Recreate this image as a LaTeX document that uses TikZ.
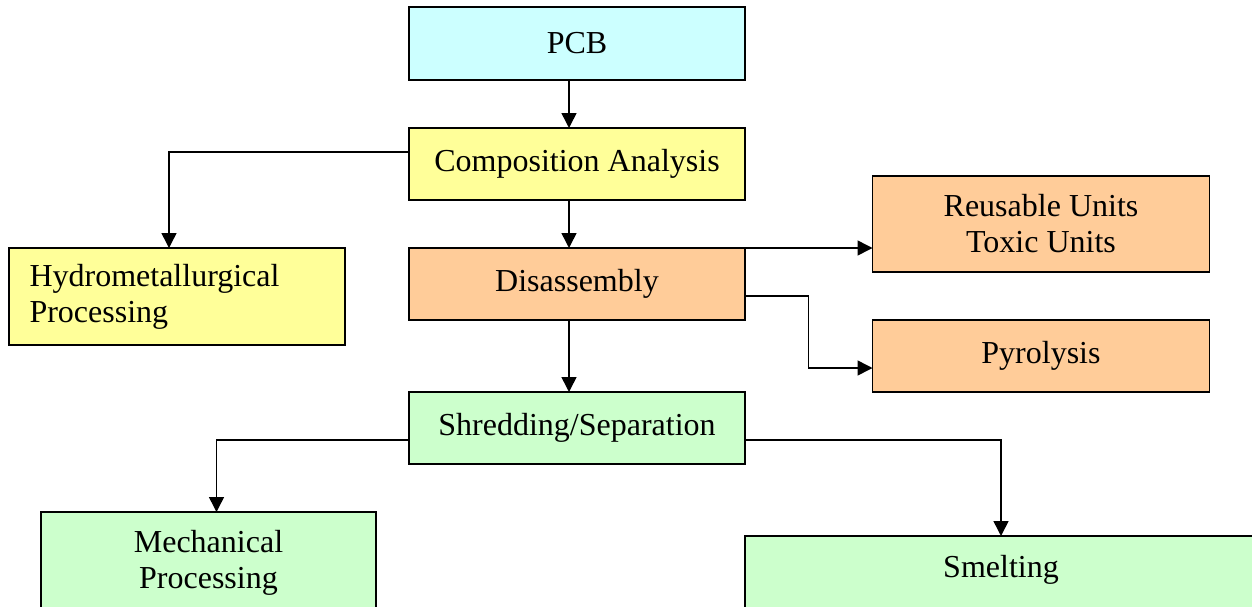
\documentclass[tikz,border=0pt]{standalone}
\usepackage{fontspec}
\setmainfont{Liberation Serif}
\usepackage{tikz}
\usetikzlibrary{positioning,arrows.meta}
\definecolor{pcbcyan}{HTML}{CCFFFF}
\definecolor{stepyellow}{HTML}{FFFF99}
\definecolor{steporange}{HTML}{FFCC99}
\definecolor{stepgreen}{HTML}{CCFFCC}
\tikzset{ stage/.style={draw,line width=1.8pt,outer sep=0pt,inner sep=0pt,minimum width=336pt,minimum height=72pt,align=center,font=\fontsize{32pt}{36pt}\selectfont},
  flow/.style={line width=1.5pt,-{Triangle[length=15pt,width=15pt]}} }

\begin{document}
\begin{tikzpicture}[x=1pt,y=-1pt]
   \useasboundingbox (0,0) rectangle (1252,606);
   \node[stage,fill=pcbcyan,minimum height=73pt] (pcb) at (577,43.5) {PCB};
   \node[stage,fill=stepyellow,below=48pt of pcb] (comp) {Composition Analysis};
   \node[stage,fill=steporange,below=48pt of comp] (dis) {Disassembly};
   \node[stage,fill=stepgreen,below=72pt of dis] (shred) {Shredding/Separation};
   \node[stage,fill=stepyellow,minimum height=97pt,text width=295pt,align=left,left=64pt of dis.north west,anchor=north east] (hydro) {Hydrometallurgical\\Processing};
   \node[stage,fill=steporange,minimum width=337pt,minimum height=96pt] (reuse) at (1041,224) {Reusable Units\\Toxic Units};
   \node[stage,fill=steporange,minimum width=337pt,below=48pt of reuse] (pyro) {Pyrolysis};
   \node[stage,fill=stepgreen,minimum width=335pt,minimum height=102pt] (mech) at (208.5,563) {Mechanical\\Processing};
   \node[stage,fill=stepgreen,minimum width=512pt,text height=41pt,text depth=40pt,anchor=north west] (smelt) at (745,536) {Smelting};
   \draw[flow] ([xshift=-8pt]pcb.south) -- ([xshift=-8pt]comp.north);
   \draw[flow] ([xshift=-8pt]comp.south) -- ([xshift=-8pt]dis.north);
   \draw[flow] ([xshift=-8pt]dis.south) -- ([xshift=-8pt]shred.north);
   \draw[flow] ([yshift=12pt]comp.west) -| ([xshift=-8pt]hydro.north);
   \draw[flow] (dis.north east) -- (dis.north east -| reuse.west);
   \draw[flow] ([yshift=-12pt]dis.east) -- ++(63.5,0) |- ([yshift=-12pt]pyro.west);
   \draw[flow] ([yshift=-12pt]shred.west) -| ([xshift=8pt]mech.north);
   \draw[flow] ([yshift=-12pt]shred.east) -| (smelt.north);
  \end{tikzpicture}
\end{document}
